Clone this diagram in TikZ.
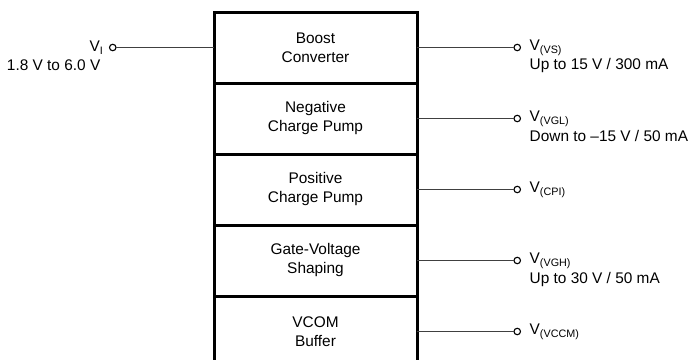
\documentclass[tikz,border=0pt]{standalone}
\usepackage{fontspec}
\setmainfont{Liberation Sans}
\usepackage{tikz}
\usetikzlibrary{positioning}

\begin{document}
\begin{tikzpicture}[x=1pt,y=-1pt,
    blk/.style={draw,line width=3pt,minimum width=203pt,minimum height=71pt,
      inner sep=0pt,outer sep=0pt,align=center,font=\fontsize{15.4}{19}\selectfont},
    term/.style={draw,circle,line width=1.1pt,minimum size=6.5pt,inner sep=0pt,outer sep=0pt},
    wire/.style={line width=1.3pt,black!75},
    lbl/.style={inner sep=0pt,font=\fontsize{15.4}{18}\selectfont}]
        \clip (0,0) rectangle (691,359);
        % stacked blocks
        \node[blk] (boost) at (315.5,47.5) {Boost\\Converter};
        \node[blk,below=0pt of boost] (neg) {Negative\\Charge Pump};
        \node[blk,below=0pt of neg] (pos) {Positive\\Charge Pump};
        \node[blk,below=0pt of pos] (gate) {Gate-Voltage\\Shaping};
        \node[blk,below=0pt of gate] (vcom) {VCOM\\Buffer};
        % input
        \node[term,left=98pt of boost] (vi) {};
        \draw[wire] (boost) -- (vi);
        \node[lbl,left=6pt of vi] (vil) {V\textsubscript{I}};
        \node[lbl,anchor=north east] at ([xshift=-3pt,yshift=-5pt]vil.south east) {1.8 V to 6.0 V};
        % outputs
        \node[term,right=97pt of boost] (vs) {};
        \node[term,right=97pt of neg] (vgl) {};
        \node[term,right=97pt of pos] (cpi) {};
        \node[term,right=97pt of gate] (vgh) {};
        \node[term,right=97pt of vcom] (vccm) {};
        \foreach \b/\t in {boost/vs,neg/vgl,pos/cpi,gate/vgh,vcom/vccm}
            \draw[wire] (\b) -- (\t);
        \node[lbl,right=9pt of vs] (vsl) {V\textsubscript{(VS)}};
        \node[lbl,anchor=north west] at ([yshift=-3pt]vsl.south west) {Up to 15 V / 300 mA};
        \node[lbl,right=9pt of vgl] (vgll) {V\textsubscript{(VGL)}};
        \node[lbl,anchor=north west] at ([yshift=-4pt]vgll.south west) {Down to \textendash15 V / 50 mA};
        \node[lbl,right=9pt of cpi] (cpil) {V\textsubscript{(CPI)}};
        \node[lbl,right=9pt of vgh] (vghl) {V\textsubscript{(VGH)}};
        \node[lbl,anchor=north west] at ([yshift=-4pt]vghl.south west) {Up to 30 V / 50 mA};
        \node[lbl,right=9pt of vccm] (vccml) {V\textsubscript{(VCCM)}};
    \end{tikzpicture}
\end{document}
